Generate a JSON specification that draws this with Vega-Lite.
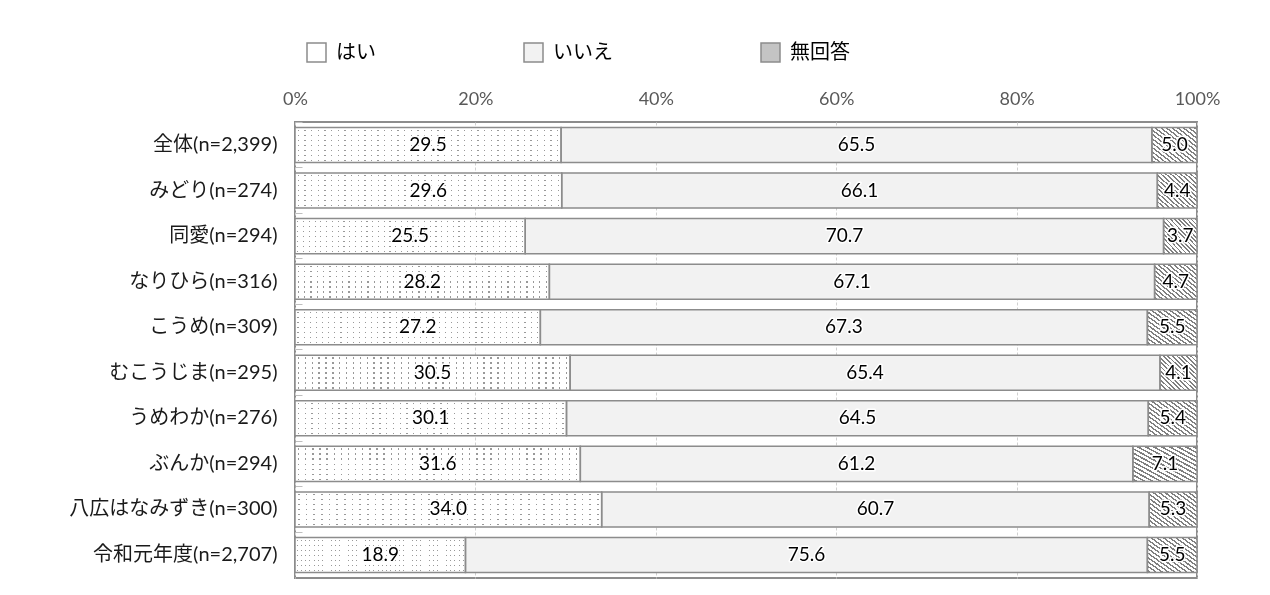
{
  "$schema": "https://vega.github.io/schema/vega-lite/v6.json",
  "width": 902,
  "height": 456,
  "autosize": {"type": "none"},
  "padding": {"left": 295, "top": 122, "right": 73, "bottom": 17},
  "background": "white",
  "config": {
    "view": {"stroke": "#8c8c8c", "strokeWidth": 2},
    "font": "Lato"
  },
  "data": {
    "values": [
      {"group": "全体(n=2,399)", "はい": 29.5, "いいえ": 65.5, "無回答": 5.0},
      {"group": "みどり(n=274)", "はい": 29.6, "いいえ": 66.1, "無回答": 4.4},
      {"group": "同愛(n=294)", "はい": 25.5, "いいえ": 70.7, "無回答": 3.7},
      {"group": "なりひら(n=316)", "はい": 28.2, "いいえ": 67.1, "無回答": 4.7},
      {"group": "こうめ(n=309)", "はい": 27.2, "いいえ": 67.3, "無回答": 5.5},
      {"group": "むこうじま(n=295)", "はい": 30.5, "いいえ": 65.4, "無回答": 4.1},
      {"group": "うめわか(n=276)", "はい": 30.1, "いいえ": 64.5, "無回答": 5.4},
      {"group": "ぶんか(n=294)", "はい": 31.6, "いいえ": 61.2, "無回答": 7.1},
      {"group": "八広はなみずき(n=300)", "はい": 34.0, "いいえ": 60.7, "無回答": 5.3},
      {"group": "令和元年度(n=2,707)", "はい": 18.9, "いいえ": 75.6, "無回答": 5.5}
    ]
  },
  "transform": [
    {"fold": ["はい", "いいえ", "無回答"], "as": ["answer", "value"]},
    {"calculate": "indexof(['はい','いいえ','無回答'], datum.answer)", "as": "ord"},
    {"stack": "value", "groupby": ["group"], "sort": [{"field": "ord", "order": "ascending"}], "offset": "normalize", "as": ["x0", "x1"]},
    {"calculate": "(datum.x0 + datum.x1) / 2", "as": "xm"}
  ],
  "resolve": {"axis": {"y": "independent"}},
  "layer": [
    {
      "mark": {"type": "bar", "strokeWidth": 0},
      "encoding": {
        "y": {
          "field": "group", "type": "nominal", "sort": null,
          "scale": {"paddingInner": 0.23, "paddingOuter": 0.12},
          "axis": {"orient": "left", "title": null, "ticks": false, "domain": false, "grid": false, "labelPadding": 18, "labelFont": "Lato, Noto Sans CJK JP", "labelFontSize": 20, "labelColor": "#1a1a1a", "labelLimit": 300}
        },
        "x": {
          "field": "x0", "type": "quantitative", "scale": {"domain": [0, 1]},
          "axis": {"orient": "top", "title": null, "format": ".0%", "values": [0, 0.2, 0.4, 0.6, 0.8, 1], "labelFlush": false, "ticks": false, "domain": false, "labelPadding": 14, "labelFont": "Lato", "labelFontSize": 18, "labelColor": "#595959", "grid": true, "gridColor": "#d0d0d0", "gridDash": [3, 2], "gridWidth": 1}
        },
        "x2": {"field": "x1"},
        "fill": {
          "field": "answer", "type": "nominal",
          "scale": {"domain": ["はい", "いいえ", "無回答"], "range": ["#ffffff", "#f2f2f2", "#c4c4c4"]},
          "legend": {
            "orient": "none", "legendX": 11, "legendY": -80, "direction": "horizontal", "title": null,
            "symbolType": "square", "symbolSize": 361, "labelFont": "Noto Sans CJK JP", "labelFontSize": 20, "labelColor": "#000000",
            "labelOffset": 9, "columnPadding": 145, "gridAlign": "none", "padding": 0,
            "symbolStrokeWidth": 1.5, "symbolStrokeColor": "#8c8c8c", "symbolOpacity": 1
          }
        }
      }
    },
    {
      "transform": [{"filter": "datum.answer === 'はい'"}],
      "mark": {"type": "bar", "strokeWidth": 0, "fill": {"gradient": "linear", "x1": 0, "y1": 0, "x2": 1, "y2": 0, "stops": [
        {"offset": 0.01, "color": "#fff"}, {"offset": 0.01, "color": "#999"}, {"offset": 0.015, "color": "#999"}, {"offset": 0.015, "color": "#fff"},
        {"offset": 0.035, "color": "#fff"}, {"offset": 0.035, "color": "#999"}, {"offset": 0.04, "color": "#999"}, {"offset": 0.04, "color": "#fff"},
        {"offset": 0.06, "color": "#fff"}, {"offset": 0.06, "color": "#999"}, {"offset": 0.065, "color": "#999"}, {"offset": 0.065, "color": "#fff"},
        {"offset": 0.085, "color": "#fff"}, {"offset": 0.085, "color": "#999"}, {"offset": 0.09, "color": "#999"}, {"offset": 0.09, "color": "#fff"},
        {"offset": 0.11, "color": "#fff"}, {"offset": 0.11, "color": "#999"}, {"offset": 0.115, "color": "#999"}, {"offset": 0.115, "color": "#fff"},
        {"offset": 0.135, "color": "#fff"}, {"offset": 0.135, "color": "#999"}, {"offset": 0.14, "color": "#999"}, {"offset": 0.14, "color": "#fff"},
        {"offset": 0.16, "color": "#fff"}, {"offset": 0.16, "color": "#999"}, {"offset": 0.165, "color": "#999"}, {"offset": 0.165, "color": "#fff"},
        {"offset": 0.185, "color": "#fff"}, {"offset": 0.185, "color": "#999"}, {"offset": 0.19, "color": "#999"}, {"offset": 0.19, "color": "#fff"},
        {"offset": 0.21, "color": "#fff"}, {"offset": 0.21, "color": "#999"}, {"offset": 0.215, "color": "#999"}, {"offset": 0.215, "color": "#fff"},
        {"offset": 0.235, "color": "#fff"}, {"offset": 0.235, "color": "#999"}, {"offset": 0.24, "color": "#999"}, {"offset": 0.24, "color": "#fff"},
        {"offset": 0.26, "color": "#fff"}, {"offset": 0.26, "color": "#999"}, {"offset": 0.265, "color": "#999"}, {"offset": 0.265, "color": "#fff"},
        {"offset": 0.285, "color": "#fff"}, {"offset": 0.285, "color": "#999"}, {"offset": 0.29, "color": "#999"}, {"offset": 0.29, "color": "#fff"},
        {"offset": 0.31, "color": "#fff"}, {"offset": 0.31, "color": "#999"}, {"offset": 0.315, "color": "#999"}, {"offset": 0.315, "color": "#fff"},
        {"offset": 0.335, "color": "#fff"}, {"offset": 0.335, "color": "#999"}, {"offset": 0.34, "color": "#999"}, {"offset": 0.34, "color": "#fff"},
        {"offset": 0.36, "color": "#fff"}, {"offset": 0.36, "color": "#999"}, {"offset": 0.365, "color": "#999"}, {"offset": 0.365, "color": "#fff"},
        {"offset": 0.385, "color": "#fff"}, {"offset": 0.385, "color": "#999"}, {"offset": 0.39, "color": "#999"}, {"offset": 0.39, "color": "#fff"},
        {"offset": 0.41, "color": "#fff"}, {"offset": 0.41, "color": "#999"}, {"offset": 0.415, "color": "#999"}, {"offset": 0.415, "color": "#fff"},
        {"offset": 0.435, "color": "#fff"}, {"offset": 0.435, "color": "#999"}, {"offset": 0.44, "color": "#999"}, {"offset": 0.44, "color": "#fff"},
        {"offset": 0.46, "color": "#fff"}, {"offset": 0.46, "color": "#999"}, {"offset": 0.465, "color": "#999"}, {"offset": 0.465, "color": "#fff"},
        {"offset": 0.485, "color": "#fff"}, {"offset": 0.485, "color": "#999"}, {"offset": 0.49, "color": "#999"}, {"offset": 0.49, "color": "#fff"},
        {"offset": 0.51, "color": "#fff"}, {"offset": 0.51, "color": "#999"}, {"offset": 0.515, "color": "#999"}, {"offset": 0.515, "color": "#fff"},
        {"offset": 0.535, "color": "#fff"}, {"offset": 0.535, "color": "#999"}, {"offset": 0.54, "color": "#999"}, {"offset": 0.54, "color": "#fff"},
        {"offset": 0.56, "color": "#fff"}, {"offset": 0.56, "color": "#999"}, {"offset": 0.565, "color": "#999"}, {"offset": 0.565, "color": "#fff"},
        {"offset": 0.585, "color": "#fff"}, {"offset": 0.585, "color": "#999"}, {"offset": 0.59, "color": "#999"}, {"offset": 0.59, "color": "#fff"},
        {"offset": 0.61, "color": "#fff"}, {"offset": 0.61, "color": "#999"}, {"offset": 0.615, "color": "#999"}, {"offset": 0.615, "color": "#fff"},
        {"offset": 0.635, "color": "#fff"}, {"offset": 0.635, "color": "#999"}, {"offset": 0.64, "color": "#999"}, {"offset": 0.64, "color": "#fff"},
        {"offset": 0.66, "color": "#fff"}, {"offset": 0.66, "color": "#999"}, {"offset": 0.665, "color": "#999"}, {"offset": 0.665, "color": "#fff"},
        {"offset": 0.685, "color": "#fff"}, {"offset": 0.685, "color": "#999"}, {"offset": 0.69, "color": "#999"}, {"offset": 0.69, "color": "#fff"},
        {"offset": 0.71, "color": "#fff"}, {"offset": 0.71, "color": "#999"}, {"offset": 0.715, "color": "#999"}, {"offset": 0.715, "color": "#fff"},
        {"offset": 0.735, "color": "#fff"}, {"offset": 0.735, "color": "#999"}, {"offset": 0.74, "color": "#999"}, {"offset": 0.74, "color": "#fff"},
        {"offset": 0.76, "color": "#fff"}, {"offset": 0.76, "color": "#999"}, {"offset": 0.765, "color": "#999"}, {"offset": 0.765, "color": "#fff"},
        {"offset": 0.785, "color": "#fff"}, {"offset": 0.785, "color": "#999"}, {"offset": 0.79, "color": "#999"}, {"offset": 0.79, "color": "#fff"},
        {"offset": 0.81, "color": "#fff"}, {"offset": 0.81, "color": "#999"}, {"offset": 0.815, "color": "#999"}, {"offset": 0.815, "color": "#fff"},
        {"offset": 0.835, "color": "#fff"}, {"offset": 0.835, "color": "#999"}, {"offset": 0.84, "color": "#999"}, {"offset": 0.84, "color": "#fff"},
        {"offset": 0.86, "color": "#fff"}, {"offset": 0.86, "color": "#999"}, {"offset": 0.865, "color": "#999"}, {"offset": 0.865, "color": "#fff"},
        {"offset": 0.885, "color": "#fff"}, {"offset": 0.885, "color": "#999"}, {"offset": 0.89, "color": "#999"}, {"offset": 0.89, "color": "#fff"},
        {"offset": 0.91, "color": "#fff"}, {"offset": 0.91, "color": "#999"}, {"offset": 0.915, "color": "#999"}, {"offset": 0.915, "color": "#fff"},
        {"offset": 0.935, "color": "#fff"}, {"offset": 0.935, "color": "#999"}, {"offset": 0.94, "color": "#999"}, {"offset": 0.94, "color": "#fff"},
        {"offset": 0.96, "color": "#fff"}, {"offset": 0.96, "color": "#999"}, {"offset": 0.965, "color": "#999"}, {"offset": 0.965, "color": "#fff"},
        {"offset": 0.985, "color": "#fff"}, {"offset": 0.985, "color": "#999"}, {"offset": 0.99, "color": "#999"}, {"offset": 0.99, "color": "#fff"}
      ]}},
      "encoding": {
        "y": {"field": "group", "type": "nominal", "sort": null, "axis": null},
        "x": {"field": "x0", "type": "quantitative"},
        "x2": {"field": "x1"}
      }
    },
    {
      "transform": [{"filter": "datum.answer === 'はい'"}],
      "mark": {"type": "bar", "strokeWidth": 0, "blend": "lighten", "fill": {"gradient": "linear", "x1": 0, "y1": 0, "x2": 0, "y2": 1, "stops": [
        {"offset": 0.06, "color": "#fff"}, {"offset": 0.06, "color": "#999"}, {"offset": 0.095, "color": "#999"}, {"offset": 0.095, "color": "#fff"},
        {"offset": 0.203, "color": "#fff"}, {"offset": 0.203, "color": "#999"}, {"offset": 0.238, "color": "#999"}, {"offset": 0.238, "color": "#fff"},
        {"offset": 0.346, "color": "#fff"}, {"offset": 0.346, "color": "#999"}, {"offset": 0.381, "color": "#999"}, {"offset": 0.381, "color": "#fff"},
        {"offset": 0.489, "color": "#fff"}, {"offset": 0.489, "color": "#999"}, {"offset": 0.524, "color": "#999"}, {"offset": 0.524, "color": "#fff"},
        {"offset": 0.632, "color": "#fff"}, {"offset": 0.632, "color": "#999"}, {"offset": 0.667, "color": "#999"}, {"offset": 0.667, "color": "#fff"},
        {"offset": 0.775, "color": "#fff"}, {"offset": 0.775, "color": "#999"}, {"offset": 0.81, "color": "#999"}, {"offset": 0.81, "color": "#fff"},
        {"offset": 0.918, "color": "#fff"}, {"offset": 0.918, "color": "#999"}, {"offset": 0.953, "color": "#999"}, {"offset": 0.953, "color": "#fff"}
      ]}},
      "encoding": {
        "y": {"field": "group", "type": "nominal", "sort": null, "axis": null},
        "x": {"field": "x0", "type": "quantitative"},
        "x2": {"field": "x1"}
      }
    },
    {
      "transform": [{"filter": "datum.answer === '無回答'"}],
      "mark": {"type": "bar", "strokeWidth": 0, "fill": {"gradient": "linear", "x1": 0, "y1": 1, "x2": 1, "y2": 0, "stops": [
        {"offset": 0.01875, "color": "#fff"}, {"offset": 0.01875, "color": "#808080"}, {"offset": 0.04375, "color": "#808080"}, {"offset": 0.04375, "color": "#fff"},
        {"offset": 0.08125, "color": "#fff"}, {"offset": 0.08125, "color": "#808080"}, {"offset": 0.10625, "color": "#808080"}, {"offset": 0.10625, "color": "#fff"},
        {"offset": 0.14375, "color": "#fff"}, {"offset": 0.14375, "color": "#808080"}, {"offset": 0.16875, "color": "#808080"}, {"offset": 0.16875, "color": "#fff"},
        {"offset": 0.20625, "color": "#fff"}, {"offset": 0.20625, "color": "#808080"}, {"offset": 0.23125, "color": "#808080"}, {"offset": 0.23125, "color": "#fff"},
        {"offset": 0.26875, "color": "#fff"}, {"offset": 0.26875, "color": "#808080"}, {"offset": 0.29375, "color": "#808080"}, {"offset": 0.29375, "color": "#fff"},
        {"offset": 0.33125, "color": "#fff"}, {"offset": 0.33125, "color": "#808080"}, {"offset": 0.35625, "color": "#808080"}, {"offset": 0.35625, "color": "#fff"},
        {"offset": 0.39375, "color": "#fff"}, {"offset": 0.39375, "color": "#808080"}, {"offset": 0.41875, "color": "#808080"}, {"offset": 0.41875, "color": "#fff"},
        {"offset": 0.45625, "color": "#fff"}, {"offset": 0.45625, "color": "#808080"}, {"offset": 0.48125, "color": "#808080"}, {"offset": 0.48125, "color": "#fff"},
        {"offset": 0.51875, "color": "#fff"}, {"offset": 0.51875, "color": "#808080"}, {"offset": 0.54375, "color": "#808080"}, {"offset": 0.54375, "color": "#fff"},
        {"offset": 0.58125, "color": "#fff"}, {"offset": 0.58125, "color": "#808080"}, {"offset": 0.60625, "color": "#808080"}, {"offset": 0.60625, "color": "#fff"},
        {"offset": 0.64375, "color": "#fff"}, {"offset": 0.64375, "color": "#808080"}, {"offset": 0.66875, "color": "#808080"}, {"offset": 0.66875, "color": "#fff"},
        {"offset": 0.70625, "color": "#fff"}, {"offset": 0.70625, "color": "#808080"}, {"offset": 0.73125, "color": "#808080"}, {"offset": 0.73125, "color": "#fff"},
        {"offset": 0.76875, "color": "#fff"}, {"offset": 0.76875, "color": "#808080"}, {"offset": 0.79375, "color": "#808080"}, {"offset": 0.79375, "color": "#fff"},
        {"offset": 0.83125, "color": "#fff"}, {"offset": 0.83125, "color": "#808080"}, {"offset": 0.85625, "color": "#808080"}, {"offset": 0.85625, "color": "#fff"},
        {"offset": 0.89375, "color": "#fff"}, {"offset": 0.89375, "color": "#808080"}, {"offset": 0.91875, "color": "#808080"}, {"offset": 0.91875, "color": "#fff"},
        {"offset": 0.95625, "color": "#fff"}, {"offset": 0.95625, "color": "#808080"}, {"offset": 0.98125, "color": "#808080"}, {"offset": 0.98125, "color": "#fff"}
      ]}},
      "encoding": {
        "y": {"field": "group", "type": "nominal", "sort": null, "axis": null},
        "x": {"field": "x0", "type": "quantitative"},
        "x2": {"field": "x1"}
      }
    },
    {
      "mark": {"type": "bar", "fillOpacity": 0, "stroke": "#8c8c8c", "strokeWidth": 1.5},
      "encoding": {
        "y": {
          "field": "group", "type": "nominal", "sort": null,
          "axis": {"orient": "left", "title": null, "labels": false, "ticks": true, "tickSize": -7, "tickColor": "#bfbfbf", "tickWidth": 1, "bandPosition": -0.15, "domain": false, "grid": false}
        },
        "x": {"field": "x0", "type": "quantitative"},
        "x2": {"field": "x1"}
      }
    },
    {
      "mark": {"type": "text", "font": "Lato", "fontSize": 19, "fill": "white", "stroke": "white", "strokeWidth": 3, "strokeJoin": "round", "baseline": "middle", "align": "center"},
      "encoding": {
        "y": {"field": "group", "type": "nominal", "sort": null, "axis": null},
        "x": {"field": "xm", "type": "quantitative"},
        "text": {"field": "value", "type": "quantitative", "format": ".1f"}
      }
    },
    {
      "mark": {"type": "text", "font": "Lato", "fontSize": 19, "fill": "black", "baseline": "middle", "align": "center"},
      "encoding": {
        "y": {"field": "group", "type": "nominal", "sort": null, "axis": null},
        "x": {"field": "xm", "type": "quantitative"},
        "text": {"field": "value", "type": "quantitative", "format": ".1f"}
      }
    }
  ]
}
